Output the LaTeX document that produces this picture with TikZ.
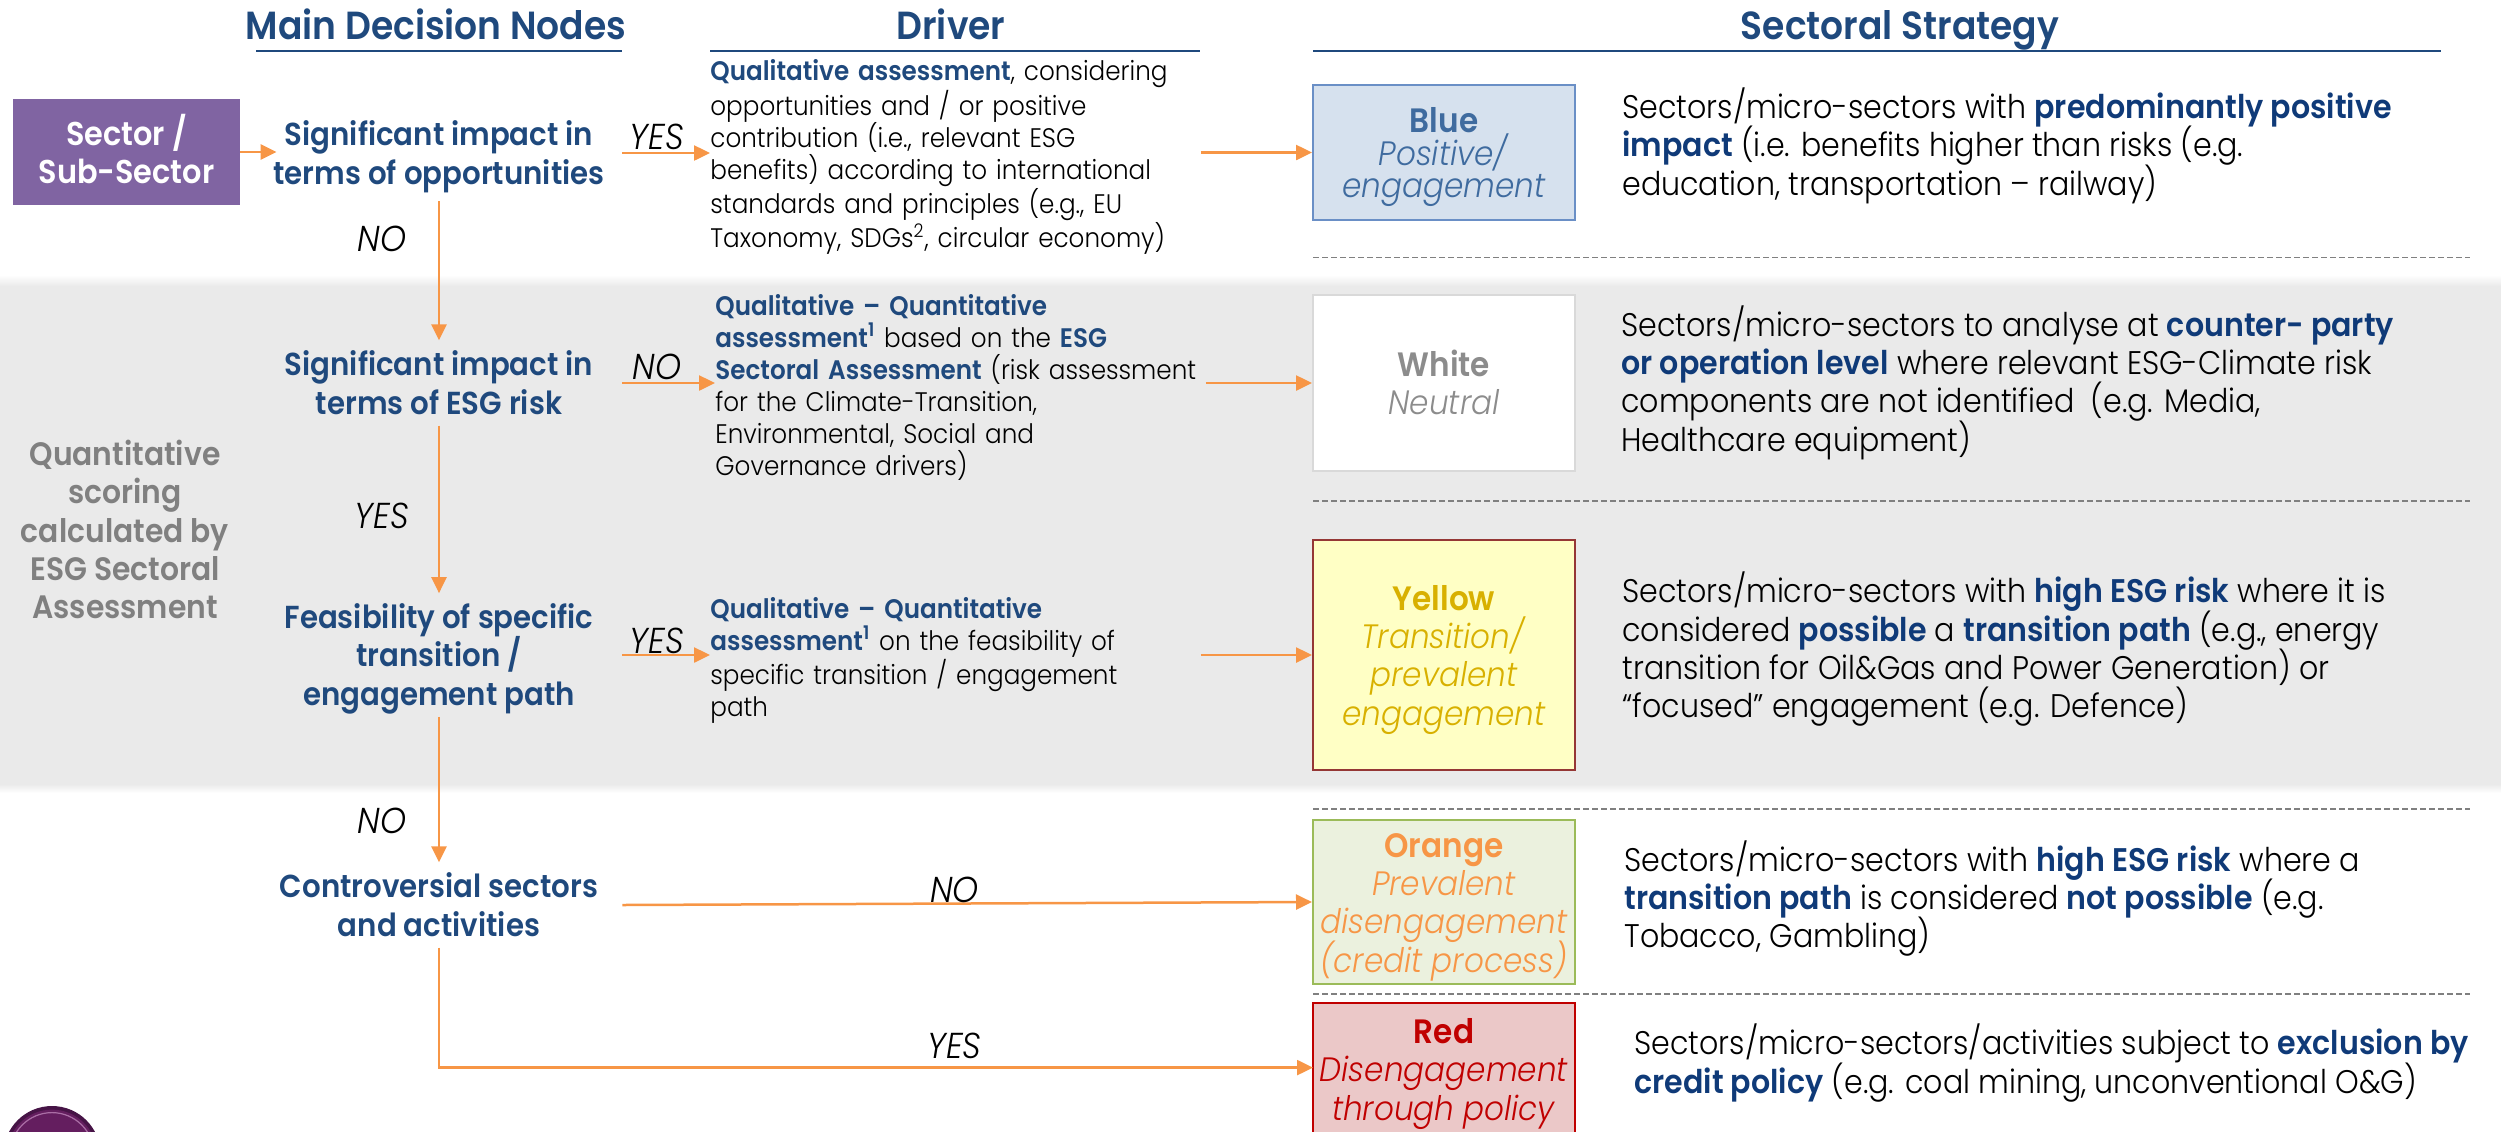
\documentclass[tikz,border=0pt]{standalone}
\usepackage{fontspec}
\setmainfont{Poppins}[FakeStretch=0.92,UprightFont=* Light,ItalicFont=* Light Italic,BoldFont=* SemiBold,BoldItalicFont=* SemiBold Italic]
\usetikzlibrary{arrows.meta}
\lineskiplimit=-30pt
\definecolor{navy}{HTML}{1F497D}
\definecolor{deepblue}{HTML}{0F3A78}
\definecolor{arrowc}{HTML}{F79646}
\definecolor{band}{HTML}{EAEAEA}
\definecolor{cb}{HTML}{4A7EBB}
\newcommand{\bd}[1]{\textbf{\textcolor{navy}{#1}}}
\newcommand{\bdp}[1]{\textbf{\textcolor{deepblue}{#1}}}
\newcommand{\stt}{\rule{0pt}{1.1em}}
\newcommand{\stb}{\rule[-.35em]{0pt}{.35em}}
\tikzset{
  x=0.5pt,y=-0.5pt,
  flow/.style={draw=arrowc,line width=1.25pt,-{Triangle[length=8pt,width=7.5pt]}},
  header/.style={font=\fontsize{19.6}{22}\selectfont\bfseries,text=navy,inner sep=0pt},
  rule/.style={draw=navy,line width=1pt},
  decision/.style={font=\fontsize{15.9}{19.2}\selectfont\bfseries,text=navy,align=center,inner sep=0pt,minimum width=183pt},
  driver/.style={font=\fontsize{13.4}{16}\selectfont,text=black,align=left,inner sep=0pt,minimum width=245pt,text width=245pt},
  answer/.style={font=\fontsize{18}{19}\selectfont\itshape,text=black,inner sep=0pt},
  strategy/.style={font=\fontsize{16.9}{19.2}\selectfont,align=center,inner sep=0pt,minimum width=131pt,line width=1pt},
  desc/.style={font=\fontsize{16.35}{19.2}\selectfont,text=black,align=left,inner sep=0pt,anchor=west},
  sep/.style={draw=black!50,line width=0.9pt,dash pattern=on 3pt off 1.5pt},
}
\begin{document}
\begin{tikzpicture}
\useasboundingbox (0,0) rectangle (2501,1131);
% grey band
\fill[band] (0,286) rectangle (2501,784);
\shade[top color=white,bottom color=band] (0,275) rectangle (2501,286);
\shade[top color=band,bottom color=white] (0,784) rectangle (2501,793);
% logo
\begin{scope}
\clip (0,0) rectangle (2501,1131);
\fill[fill={rgb,255:red,70;green,20;blue,70}] (52,1154.6) circle[radius=48.6];
\fill[fill={rgb,255:red,100;green,30;blue,95}] (52,1154.6) circle[radius=45];
\draw[draw={rgb,255:red,170;green,110;blue,165},line width=0.6pt] (52,1154.6) circle[radius=42];
\end{scope}
% headers
\node[header] (h1) at (436,25) {\stt Main Decision Nodes\stb};
\node[header] (h2) at (951,25) {\stt Driver\stb};
\node[header] (h3) at (1900,25) {\stt Sectoral Strategy\stb};
\coordinate (r1a) at (256,51); \coordinate (r1b) at (622,51);
\coordinate (r2a) at (710,51); \coordinate (r2b) at (1200,51);
\coordinate (r3a) at (1313,51); \coordinate (r3b) at (2441,51);
\draw[rule] (r1a)--(r1b); \draw[rule] (r2a)--(r2b); \draw[rule] (r3a)--(r3b);
% source
\node[fill={rgb,255:red,128;green,100;blue,162},text=white,font=\fontsize{16.5}{19.2}\selectfont\bfseries,align=center,inner sep=0pt,minimum width=113.5pt,minimum height=53pt] (sec) at (126.5,152) {\stt Sector /\\Sub-Sector\stb};
% decisions
\node[decision,minimum height=48pt] (d1) at (439,153) {\stt Significant impact in\\terms of opportunities\stb};
\node[decision,minimum height=39.5pt] (d2) at (439,383) {\stt Significant impact in\\terms of ESG risk\stb};
\node[decision,minimum height=58.3pt] (d3) at (439,655) {\stt Feasibility of specific\\transition /\\engagement path\stb};
\node[decision,minimum height=39pt] (d4) at (439,905) {\stt Controversial sectors\\and activities\stb};
% side note
\node[font=\fontsize{16.2}{19.2}\selectfont\bfseries,text=black!50,align=center,inner sep=0pt] (q) at (125,530) {\stt Quantitative\\scoring\\calculated by\\ESG Sectoral\\Assessment\stb};
% drivers
\node[driver,anchor=west] (dr1) at (710,154) {\stt\bd{Qualitative assessment}, considering\\opportunities and / or positive\\contribution (i.e., relevant ESG\\benefits) according to international\\standards and principles (e.g., EU\\Taxonomy, SDGs\textsuperscript{2}, circular economy)\stb};
\node[driver,anchor=west] (dr2) at (715,385) {\stt\bd{Qualitative – Quantitative}\\\bd{assessment\textsuperscript{1}} based on the \bd{ESG}\\\bd{Sectoral Assessment} (risk assessment\\for the Climate-Transition,\\Environmental, Social and\\Governance drivers)\stb};
\node[driver,anchor=west] (dr3) at (710,657) {\stt\bd{Qualitative – Quantitative}\\\bd{assessment\textsuperscript{1}} on the feasibility of\\specific transition / engagement\\path\stb};
% strategy boxes
\node[strategy,draw={rgb,255:red,106;green,143;blue,198},fill={rgb,255:red,214;green,225;blue,238},minimum height=67.5pt,text=cb!85!black,font=\fontsize{16.9}{16.3}\selectfont] (sb) at (1444,152.5) {\stt\textbf{Blue}\\\textit{Positive/}\\\textit{engagement}\stb};
\node[strategy,draw=black!15,fill=white,minimum height=88pt,text=black!45] (sw) at (1444,383) {\stt\textbf{White}\\\textit{Neutral}\stb};
\node[strategy,draw={rgb,255:red,149;green,55;blue,53},fill={rgb,255:red,255;green,255;blue,197},minimum height=115pt,text={rgb,255:red,216;green,176;blue,0}] (sy) at (1444,655) {\stt\textbf{Yellow}\\\textit{Transition/}\\\textit{prevalent}\\\textit{engagement}\stb};
\node[strategy,draw={rgb,255:red,155;green,187;blue,89},fill={rgb,255:red,235;green,241;blue,222},minimum height=81pt,text=arrowc] (so) at (1444,902) {\stt\textbf{Orange}\\\textit{Prevalent}\\\textit{disengagement}\\\textit{(credit process)}\stb};
\node[strategy,draw={rgb,255:red,192;green,0;blue,0},fill={rgb,255:red,235;green,200;blue,200},minimum height=66pt,text={rgb,255:red,192;green,0;blue,0}] (sr) at (1444,1069) {\stt\textbf{Red}\\\textit{Disengagement}\\\textit{through policy}\stb};
% descriptions
\node[desc] (t1) at (1622,144.5) {\stt Sectors/micro-sectors with \bdp{predominantly positive}\\\bdp{impact} (i.e. benefits higher than risks (e.g.\\education, transportation – railway)\stb};
\node[desc] (t2) at (1621,381.5) {\stt Sectors/micro-sectors to analyse at \bdp{counter- party}\\\bdp{or operation level} where relevant ESG-Climate risk\\components are not identified\ \ (e.g. Media,\\Healthcare equipment)\stb};
\node[desc] (t3) at (1622,648) {\stt Sectors/micro-sectors with \bdp{high ESG risk} where it is\\considered \bdp{possible} a \bdp{transition path} (e.g., energy\\transition for Oil\&Gas and Power Generation) or\\“focused” engagement (e.g. Defence)\stb};
\node[desc] (t4) at (1624,897.3) {\stt Sectors/micro-sectors with \bdp{high ESG risk} where a\\\bdp{transition path} is considered \bdp{not possible} (e.g.\\Tobacco, Gambling)\stb};
\node[desc] (t5) at (1634,1061.6) {\stt Sectors/micro-sectors/activities subject to \bdp{exclusion by}\\\bdp{credit policy} (e.g. coal mining, unconventional O\&G)\stb};
% separators
\foreach \yy/\nm in {257.5/a,500.7/b,808.7/c,994/d}{
  \coordinate (s\nm l) at (1313,\yy); \coordinate (s\nm r) at (2470,\yy);
  \draw[sep] (s\nm l)--(s\nm r);
}
% connectors
\draw[flow,shorten >=-10.5pt] (sec.east) -- (sec.east -| d1.west);
\draw[flow] (d1.east) -- (d1.east -| dr1.west);
\draw[flow] (d2.east) -- (d2.east -| dr2.west);
\draw[flow] (d3.east) -- (d3.east -| dr3.west);
\draw[flow] (dr1.east |- sb.west) -- (sb.west);
\draw[flow] (dr2.east |- sw.west) -- (sw.west);
\draw[flow] (dr3.east |- sy.west) -- (sy.west);
\draw[flow] (d4.east) -- (so.west);
\draw[flow] (d1.south) -- (d2.north);
\draw[flow] (d2.south) -- (d3.north);
\draw[flow] (d3.south) -- (d4.north);
\coordinate (rin) at (1313,1067.6);
\draw[flow] (d4.south) |- (rin);
% answers
\node[answer] (a1) at (657,136) {\stt YES\stb};
\node[answer] (a2) at (382,237.5) {\stt NO\stb};
\node[answer] (a3) at (657,366) {\stt NO\stb};
\node[answer] (a4) at (382,515) {\stt YES\stb};
\node[answer] (a5) at (657,640) {\stt YES\stb};
\node[answer] (a6) at (382,820) {\stt NO\stb};
\node[answer] (a7) at (954.5,888.5) {\stt NO\stb};
\node[answer] (a8) at (954.5,1045.4) {\stt YES\stb};
\end{tikzpicture}
\end{document}
